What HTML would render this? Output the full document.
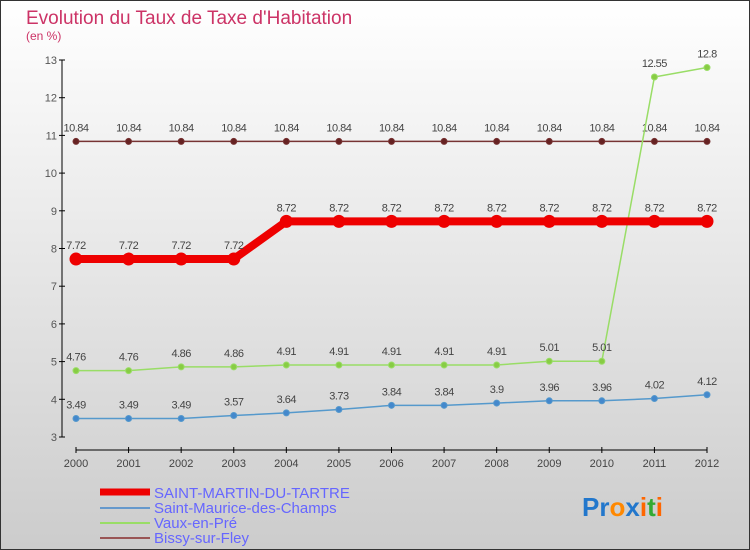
<!DOCTYPE html>
<html><head><meta charset="utf-8"><style>
body{margin:0}
#c{width:750px;height:550px;position:relative;overflow:hidden;font-family:"Liberation Sans",sans-serif}
</style></head><body>
<div id="c">
<svg id="s" width="750" height="550" xmlns="http://www.w3.org/2000/svg">
<defs><linearGradient id="bg" x1="0" y1="0" x2="0" y2="1"><stop offset="0" stop-color="#ffffff"/><stop offset="1" stop-color="#cccccc"/></linearGradient></defs>
<rect x="0.5" y="0.5" width="749" height="549" fill="url(#bg)" stroke="#333"/>
<text x="26" y="24" font-size="19" fill="#cc3366">Evolution du Taux de Taxe d'Habitation</text>
<text x="26" y="40" font-size="12" fill="#cc3366">(en %)</text>
<g id="axes"></g><g id="series"></g>
<g>
<line x1="100" y1="492" x2="150" y2="492" stroke="#ee0000" stroke-width="7"/>
<text x="154" y="498" font-size="15" fill="#6666ff">SAINT-MARTIN-DU-TARTRE</text>
<line x1="100" y1="508" x2="150" y2="508" stroke="#6699cc" stroke-width="2"/>
<text x="154" y="513" font-size="15" fill="#6666ff">Saint-Maurice-des-Champs</text>
<line x1="100" y1="523" x2="150" y2="523" stroke="#99dd66" stroke-width="2"/>
<text x="154" y="528" font-size="15" fill="#6666ff">Vaux-en-Pré</text>
<line x1="100" y1="538" x2="150" y2="538" stroke="#995555" stroke-width="2"/>
<text x="154" y="543" font-size="15" fill="#6666ff">Bissy-sur-Fley</text>
</g>
<text x="582" y="516" font-size="26" font-weight="bold"><tspan fill="#2277cc">Pr</tspan><tspan fill="#ff8800">o</tspan><tspan fill="#2277cc">x</tspan><tspan fill="#ff6600">i</tspan><tspan fill="#33aa33">t</tspan><tspan fill="#ff6600">i</tspan></text>
</svg>
</div>
<script>
const years=[2000,2001,2002,2003,2004,2005,2006,2007,2008,2009,2010,2011,2012];
const yTicks=[3,4,5,6,7,8,9,10,11,12,13];
const smt=[7.72,7.72,7.72,7.72,8.72,8.72,8.72,8.72,8.72,8.72,8.72,8.72,8.72];
const smc=[3.49,3.49,3.49,3.57,3.64,3.73,3.84,3.84,3.9,3.96,3.96,4.02,4.12];
const vaux=[4.76,4.76,4.86,4.86,4.91,4.91,4.91,4.91,4.91,5.01,5.01,12.55,12.8];
const bissy=[10.84,10.84,10.84,10.84,10.84,10.84,10.84,10.84,10.84,10.84,10.84,10.84,10.84];
const NS="http://www.w3.org/2000/svg";
const xS=i=>76+i*(707-76)/(years.length-1);
const yS=v=>437-(v-3)*37.7;
function mk(t,a,p){const e=document.createElementNS(NS,t);for(const k in a)e.setAttribute(k,a[k]);p.appendChild(e);return e;}
const ax=document.getElementById('axes'),sg=document.getElementById('series');
let l=mk('line',{x1:62,y1:yS(13),x2:62,y2:yS(3),stroke:'#000'},ax);


yTicks.forEach(v=>{mk('line',{x1:59,x2:65,y1:yS(v),y2:yS(v),stroke:'#000'},ax);
const t=mk('text',{x:57,y:yS(v)+4,'font-size':11,fill:'#555','text-anchor':'end'},ax);t.textContent=v;

});
l=mk('line',{x1:76,y1:450,x2:707,y2:450,stroke:'#000'},ax);


years.forEach((y,i)=>{mk('line',{x1:xS(i),x2:xS(i),y1:447,y2:453,stroke:'#000'},ax);
const t=mk('text',{x:xS(i),y:467,'font-size':11,fill:'#444','text-anchor':'middle'},ax);t.textContent=y;

});
function series(d,col,w,r,name,dot){
const g=mk('g',{},sg);


mk('polyline',{points:d.map((v,i)=>xS(i)+','+yS(v)).join(' '),fill:'none',stroke:col,'stroke-width':w,'stroke-linejoin':'round'},g);
d.forEach((v,i)=>{const c=mk('circle',{cx:xS(i),cy:yS(v),r:r,fill:dot,stroke:col,'stroke-width':1},g);


const t=mk('text',{x:xS(i),y:yS(v)-10,'font-size':11,fill:'#444','text-anchor':'middle','letter-spacing':'-0.5'},g);t.textContent=v;

});}
series(bissy,'#773333',1.5,3,'series-bissy','#662222');
series(smc,'#5599cc',1.5,3,'series-saint-maurice','#4488cc');
series(vaux,'#99dd66',1.5,3,'series-vaux','#88cc44');
series(smt,'#ee0000',8,6,'series-saint-martin','#ee0000');
</script>
</body></html>
